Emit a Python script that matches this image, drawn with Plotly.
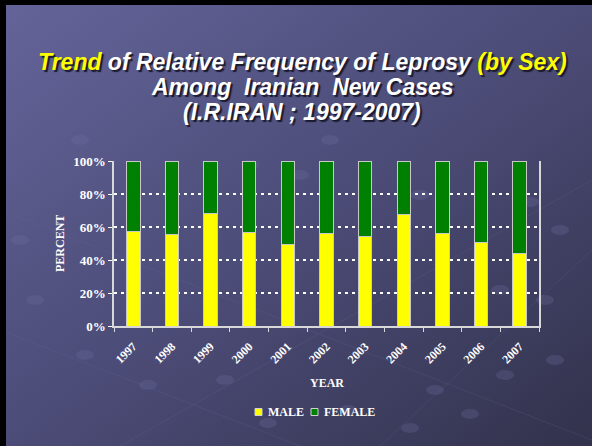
import plotly.graph_objects as go
import base64

years = ["1997", "1998", "1999", "2000", "2001", "2002", "2003", "2004", "2005", "2006", "2007"]
male = [0.57, 0.553, 0.683, 0.565, 0.492, 0.559, 0.545, 0.675, 0.559, 0.506, 0.439]
female = [round(1 - m, 3) for m in male]
y_ticks = [0, 0.2, 0.4, 0.6, 0.8, 1.0]
y_ticklabels = ["0%", "20%", "40%", "60%", "80%", "100%"]
series_names = ["MALE", "FEMALE"]
series_colors = ["#ffff00", "#008000"]

W, H = 592, 446
L, R, T, B = 114, 53, 161, 120
PW, PH = W - L - R, H - T - B

def px(x):
    return (x - L) / PW

def py(y):
    return (H - B - y) / PH

# decorative background dots (slide theme)
dots = [(85, 355), (148, 385), (268, 423), (348, 410), (225, 380), (505, 375), (555, 360),
        (435, 390), (470, 414), (410, 428), (530, 202), (560, 230), (20, 240), (35, 300),
        (500, 290), (545, 300), (250, 165), (300, 175), (420, 195), (80, 140), (330, 140)]
dot_svg = "".join(f'<ellipse cx="{x}" cy="{y}" rx="9" ry="5" fill="#7070a0" opacity="0.28"/>' for x, y in dots)

svg = f'''<svg xmlns="http://www.w3.org/2000/svg" width="{W}" height="{H}" viewBox="0 0 {W} {H}" preserveAspectRatio="none">
<defs><linearGradient id="g" x1="0" y1="0" x2="1" y2="1">
<stop offset="0" stop-color="#64649a"/><stop offset="0.5" stop-color="#4c4c78"/><stop offset="1" stop-color="#32324c"/>
</linearGradient></defs>
<rect width="{W}" height="{H}" fill="url(#g)"/>
<g stroke="#6a6a98" stroke-width="0.6" opacity="0.35" fill="none">
<line x1="0" y1="210" x2="592" y2="440"/><line x1="120" y1="446" x2="592" y2="180"/>
<line x1="0" y1="330" x2="300" y2="446"/><line x1="380" y1="446" x2="592" y2="250"/>
</g>
{dot_svg}
<rect x="0" y="0" width="{W}" height="5" fill="#000"/>
<rect x="0" y="0" width="6" height="{H}" fill="#000"/>
</svg>'''
src = "data:image/svg+xml;base64," + base64.b64encode(svg.encode()).decode()

fig = go.Figure()
for name, vals, col in zip(series_names, [male, female], series_colors):
    fig.add_trace(go.Bar(x=years, y=vals, name=name, width=0.35,
                         marker=dict(color=col, line=dict(color="#c8c8c8", width=1))))

serif = "Liberation Serif"
fig.update_layout(
    width=W, height=H, barmode="stack",
    margin=dict(l=L, r=R, t=T, b=B, autoexpand=False),
    paper_bgcolor="#4a4a74", plot_bgcolor="rgba(0,0,0,0)",
    showlegend=False,
    images=[dict(source=src, xref="paper", yref="paper", x=px(0), y=py(0),
                 sizex=W / PW, sizey=H / PH, xanchor="left", yanchor="top",
                 sizing="stretch", layer="below")],
)
fig.update_xaxes(
    type="category", tickangle=-45, tickson="boundaries", ticks="outside", ticklen=4,
    tickcolor="#d8d8d8", showline=True, linecolor="#d8d8d8", linewidth=1.5, showgrid=False,
    ticklabelstandoff=7,
    tickfont=dict(family=serif, size=12, color="white", weight="bold"),
)
fig.update_yaxes(
    range=[0, 1.0], tickvals=y_ticks, ticktext=y_ticklabels, ticks="outside", ticklen=4,
    tickcolor="white", showline=True, mirror=True, linecolor="#d8d8d8", linewidth=1.5,
    showgrid=True, gridcolor="white", gridwidth=2, griddash="3px,4px", zeroline=False,
    tickfont=dict(family=serif, size=13, color="white", weight="bold"),
)

# axis titles
lab_font = dict(family=serif, size=12, color="white", weight="bold")
fig.add_annotation(text="YEAR", xref="paper", yref="paper", x=px(327), y=py(383),
                   xanchor="center", yanchor="middle", showarrow=False, font=lab_font)
fig.add_annotation(text="PERCENT", xref="paper", yref="paper", x=px(60), y=py(244),
                   xanchor="center", yanchor="middle", showarrow=False, textangle=-90, font=lab_font)

# legend (custom)
leg = [(255, 266), (311, 322)]
for (sx, tx), name, col in zip(leg, series_names, series_colors):
    fig.add_shape(type="rect", xref="paper", yref="paper", x0=px(sx), x1=px(sx + 7),
                  y0=py(408.5), y1=py(415.5), fillcolor=col, line=dict(color="#d0d0d0", width=1))
    fig.add_annotation(text=name, xref="paper", yref="paper", x=px(tx), y=py(412),
                       xanchor="left", yanchor="middle", showarrow=False, font=lab_font)

title_font = dict(family="Liberation Sans", size=23, color="white", weight="bold", style="italic",
                  shadow="2px 2px 1px #1a1a2e")
lines = [
    ('<span style="color:#ffff00">Trend</span> of Relative Frequency of Leprosy <span style="color:#ffff00">(by Sex)</span>', 62),
    ("Among  Iranian  New Cases", 87),
    ("(I.R.IRAN ; 1997-2007)", 112),
]
for text, y in lines:
    fig.add_annotation(text=text, xref="paper", yref="paper", x=px(302), y=py(y),
                       xanchor="center", yanchor="middle", showarrow=False, font=title_font)

fig.write_html("out.html", config={"displayModeBar": False},
               post_script="document.body.style.margin='0';document.body.style.overflow='hidden';")
